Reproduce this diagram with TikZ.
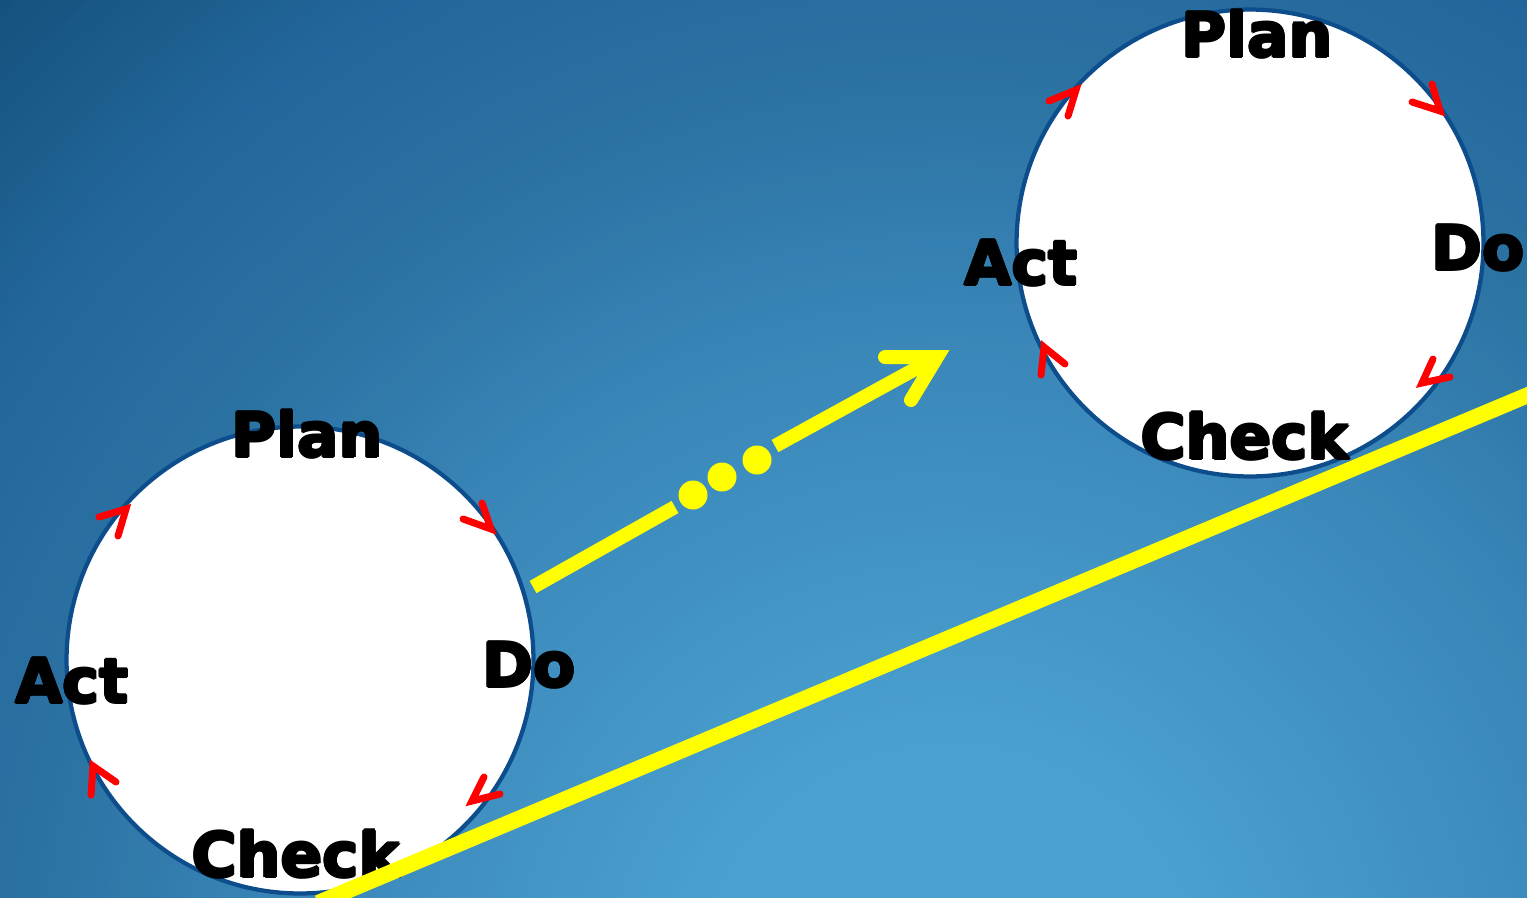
\documentclass[tikz,border=0pt]{standalone}
\usepackage{fontspec}
\newfontfamily\pdcafont{DejaVu Sans Bold}
\newcommand\heavytxt[1]{\leavevmode\rlap{\hspace{-0.7pt}#1}\rlap{\hspace{0.7pt}#1}\rlap{\raisebox{0.7pt}{#1}}\rlap{\raisebox{-0.7pt}{#1}}\rlap{\hspace{-0.5pt}\raisebox{0.5pt}{#1}}\rlap{\hspace{0.5pt}\raisebox{0.5pt}{#1}}\rlap{\hspace{-0.5pt}\raisebox{-0.5pt}{#1}}\rlap{\hspace{0.5pt}\raisebox{-0.5pt}{#1}}#1}
\definecolor{bgA}{HTML}{4AA1D1}
\definecolor{bgB}{HTML}{3884B6}
\definecolor{bgC}{HTML}{2C74A4}
\definecolor{bgE}{HTML}{22669A}
\definecolor{bgD}{HTML}{13507C}
\definecolor{rimblue}{HTML}{0D4D8C}
\definecolor{chevred}{HTML}{FF0000}
\definecolor{hiyellow}{HTML}{FFFF00}
\tikzset{
  cyc/.style={circle, draw=rimblue, fill=white, line width=0.085cm, minimum size=9.34cm, inner sep=0pt},
  lbl/.style={anchor=base, inner sep=0pt, font=\pdcafont\fontsize{35}{40}\selectfont, text=black},
  chev/.style={draw=chevred, line width=0.14cm, line cap=round, line join=miter},
  yshaft/.style={draw=hiyellow, line width=0.28cm},
  yhead/.style={draw=hiyellow, line width=0.28cm, line cap=round, line join=miter},
  ydot/.style={circle, fill=hiyellow, minimum size=0.58cm, inner sep=0pt},
  yline/.style={draw=hiyellow, line width=0.32cm}
}
\begin{document}
\begin{tikzpicture}[x=0.02cm,y=-0.02cm]
\useasboundingbox (0,0) rectangle (1527,897);
\begin{scope}
\clip (0,0) rectangle (1527,897);
\fill[bgD] (0,0) rectangle (1527,897);
\coordinate (ctr) at (950,1000);
\foreach \r in {1400,1390,...,1150}{\pgfmathtruncatemacro\p{(\r-1150)/2.5}\fill[bgD!\p!bgE] (ctr) circle[radius=\r*0.02cm];}
\foreach \r in {1140,1130,...,900}{\pgfmathtruncatemacro\p{(\r-900)/2.5}\fill[bgE!\p!bgC] (ctr) circle[radius=\r*0.02cm];}
\foreach \r in {890,880,...,700}{\pgfmathtruncatemacro\p{(\r-700)/2}\fill[bgC!\p!bgB] (ctr) circle[radius=\r*0.02cm];}
\foreach \r in {690,680,...,250}{\pgfmathtruncatemacro\p{(\r-250)/4.5}\fill[bgB!\p!bgA] (ctr) circle[radius=\r*0.02cm];}
\end{scope}
% circles
\node[cyc] (c1) at (300,660) {};
\node[cyc] (c2) at (1250,243) {};
% labels circle 1
\node[lbl] (p1) at (307,457) {\heavytxt{Plan}};
\node[lbl] (d1) at (529,687) {\heavytxt{Do}};
\node[lbl] (a1) at (72,703) {\heavytxt{Act}};
\node[lbl] (k1) at (296,877) {\heavytxt{Check}};
% labels circle 2
\node[lbl] (p2) at (1257,57) {\heavytxt{Plan}};
\node[lbl] (d2) at (1478,270) {\heavytxt{Do}};
\node[lbl] (a2) at (1021,285) {\heavytxt{Act}};
\node[lbl] (k2) at (1245,459) {\heavytxt{Check}};
% red chevrons circle 1
\draw[chev] (482,503) -- (491,529) -- (463,519);
\draw[chev] (99,517) -- (126,509) -- (118,536);
\draw[chev] (91,795) -- (93,766) -- (116,782);
\draw[chev] (484,777) -- (472,801) -- (500,794);
% red chevrons circle 2
\draw[chev] (1049,101) -- (1076,90) -- (1068,116);
\draw[chev] (1432,84) -- (1440,111) -- (1412,102);
\draw[chev] (1041,375) -- (1044,347) -- (1065,364);
\draw[chev] (1433,359) -- (1422,383) -- (1450,377);
% yellow progression arrow
\coordinate (s0) at (533,587);
\coordinate (s1) at (675,507);
\node[ydot] (dot1) at (693,495) {};
\node[ydot] (dot2) at (722,477) {};
\node[ydot] (dot3) at (757,460) {};
\coordinate (s2) at (775,446);
\coordinate (tip) at (937,357);
\coordinate (arm1) at (885,357);
\coordinate (arm2) at (911,400);
\draw[yshaft] (s0) -- (s1);
\draw[yshaft] (s2) -- (tip);
\draw[yhead] (arm1) -- (tip) -- (arm2);
% long yellow line
\coordinate (l0) at (318,903);
\coordinate (l1) at (1540,390);
\draw[yline] (l0) -- (l1);
\end{tikzpicture}
\end{document}
